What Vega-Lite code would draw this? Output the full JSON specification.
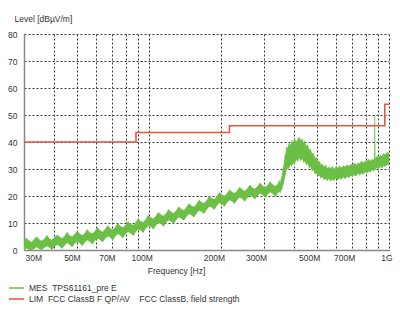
{
  "$schema": "https://vega.github.io/schema/vega-lite/v6.json",
  "width": 365,
  "height": 216,
  "autosize": {"type": "none"},
  "padding": {"left": 24, "top": 34, "right": 11, "bottom": 59},
  "background": "white",
  "config": {
    "view": {"stroke": null},
    "font": "Liberation Sans",
    "axis": {
      "labelFont": "Liberation Sans",
      "labelFontSize": 8.5,
      "labelColor": "#333",
      "titleFont": "Liberation Sans",
      "titleFontSize": 8.5,
      "titleFontWeight": "normal",
      "titleColor": "#333",
      "ticks": false,
      "grid": true,
      "gridColor": "#3a3a3a",
      "gridDash": [2, 2],
      "gridWidth": 1,
      "domainColor": "#888",
      "domainWidth": 1.5,
      "labelOverlap": false
    }
  },
  "datasets": {
    "mes": [
      {"f": 30, "lo": 0, "hi": 3.3},
      {"f": 30.7, "lo": 0.6, "hi": 4.4},
      {"f": 31.5, "lo": 0, "hi": 3.4},
      {"f": 32.2, "lo": 0, "hi": 2.9},
      {"f": 33, "lo": 0.3, "hi": 3.8},
      {"f": 33.8, "lo": 1.1, "hi": 4.9},
      {"f": 34.7, "lo": 0.4, "hi": 3.9},
      {"f": 35.6, "lo": 0, "hi": 3.3},
      {"f": 36.5, "lo": 0.8, "hi": 4.1},
      {"f": 37.4, "lo": 1.4, "hi": 5.5},
      {"f": 38.3, "lo": 0.9, "hi": 4.2},
      {"f": 39.2, "lo": 0, "hi": 3.7},
      {"f": 40.2, "lo": 1.1, "hi": 4.6},
      {"f": 41.2, "lo": 1.9, "hi": 5.6},
      {"f": 42.2, "lo": 1.4, "hi": 4.9},
      {"f": 43.2, "lo": 0.4, "hi": 4.3},
      {"f": 44.3, "lo": 1.6, "hi": 5.1},
      {"f": 45.4, "lo": 2.6, "hi": 6.6},
      {"f": 46.5, "lo": 2.0, "hi": 5.3},
      {"f": 47.6, "lo": 0.9, "hi": 4.9},
      {"f": 48.8, "lo": 2.3, "hi": 5.8},
      {"f": 50, "lo": 3.1, "hi": 6.9},
      {"f": 51.3, "lo": 2.5, "hi": 6.0},
      {"f": 52.5, "lo": 1.5, "hi": 5.4},
      {"f": 53.8, "lo": 2.8, "hi": 6.2},
      {"f": 55.1, "lo": 3.6, "hi": 7.6},
      {"f": 56.5, "lo": 3.1, "hi": 6.4},
      {"f": 57.9, "lo": 2.0, "hi": 6.0},
      {"f": 59.3, "lo": 3.4, "hi": 6.9},
      {"f": 60.8, "lo": 4.2, "hi": 8.3},
      {"f": 62.3, "lo": 3.8, "hi": 7.2},
      {"f": 63.8, "lo": 2.8, "hi": 6.7},
      {"f": 65.4, "lo": 4.2, "hi": 7.6},
      {"f": 67, "lo": 5.0, "hi": 9.1},
      {"f": 68.7, "lo": 4.6, "hi": 8.0},
      {"f": 70.4, "lo": 3.6, "hi": 7.5},
      {"f": 72.1, "lo": 5.0, "hi": 8.4},
      {"f": 73.9, "lo": 5.9, "hi": 9.9},
      {"f": 75.7, "lo": 5.4, "hi": 8.8},
      {"f": 77.6, "lo": 4.3, "hi": 8.3},
      {"f": 79.5, "lo": 5.8, "hi": 9.2},
      {"f": 81.5, "lo": 6.7, "hi": 10.6},
      {"f": 83.5, "lo": 6.2, "hi": 9.6},
      {"f": 85.6, "lo": 5.2, "hi": 9.2},
      {"f": 87.7, "lo": 6.7, "hi": 10.1},
      {"f": 89.8, "lo": 7.6, "hi": 11.6},
      {"f": 92, "lo": 7.2, "hi": 10.6},
      {"f": 94.3, "lo": 6.3, "hi": 10.3},
      {"f": 96.6, "lo": 7.9, "hi": 11.3},
      {"f": 99, "lo": 8.9, "hi": 12.9},
      {"f": 101.5, "lo": 8.6, "hi": 12.0},
      {"f": 104, "lo": 7.6, "hi": 11.6},
      {"f": 106.5, "lo": 9.1, "hi": 12.5},
      {"f": 109.2, "lo": 10.0, "hi": 14.0},
      {"f": 111.9, "lo": 9.6, "hi": 13.0},
      {"f": 114.6, "lo": 8.6, "hi": 12.6},
      {"f": 117.4, "lo": 10.1, "hi": 13.5},
      {"f": 120.3, "lo": 11.0, "hi": 15.0},
      {"f": 123.3, "lo": 10.6, "hi": 14.0},
      {"f": 126.4, "lo": 9.6, "hi": 13.6},
      {"f": 129.5, "lo": 11.1, "hi": 14.5},
      {"f": 132.7, "lo": 12.1, "hi": 16.0},
      {"f": 136, "lo": 11.7, "hi": 15.1},
      {"f": 139.4, "lo": 10.8, "hi": 14.7},
      {"f": 142.8, "lo": 12.3, "hi": 15.7},
      {"f": 146.3, "lo": 13.3, "hi": 17.2},
      {"f": 149.9, "lo": 12.9, "hi": 16.3},
      {"f": 153.6, "lo": 12.0, "hi": 15.9},
      {"f": 157.4, "lo": 13.5, "hi": 16.9},
      {"f": 161.3, "lo": 14.5, "hi": 18.5},
      {"f": 165.3, "lo": 14.2, "hi": 17.6},
      {"f": 169.4, "lo": 13.3, "hi": 17.3},
      {"f": 173.5, "lo": 14.9, "hi": 18.3},
      {"f": 177.8, "lo": 16.0, "hi": 19.9},
      {"f": 182.2, "lo": 15.7, "hi": 19.1},
      {"f": 186.7, "lo": 14.8, "hi": 18.8},
      {"f": 191.3, "lo": 16.4, "hi": 19.8},
      {"f": 196, "lo": 17.4, "hi": 21.3},
      {"f": 200.9, "lo": 17.0, "hi": 20.4},
      {"f": 205.8, "lo": 16.0, "hi": 20.0},
      {"f": 210.9, "lo": 17.5, "hi": 20.9},
      {"f": 216.1, "lo": 18.4, "hi": 22.3},
      {"f": 221.5, "lo": 18.0, "hi": 21.4},
      {"f": 226.9, "lo": 17.0, "hi": 21.0},
      {"f": 232.5, "lo": 18.5, "hi": 21.9},
      {"f": 238.3, "lo": 19.4, "hi": 23.3},
      {"f": 244.2, "lo": 18.9, "hi": 22.3},
      {"f": 250.2, "lo": 17.9, "hi": 21.8},
      {"f": 256.4, "lo": 19.3, "hi": 22.7},
      {"f": 262.7, "lo": 20.2, "hi": 24.1},
      {"f": 269.2, "lo": 19.7, "hi": 23.1},
      {"f": 275.8, "lo": 18.7, "hi": 22.6},
      {"f": 282.6, "lo": 20.1, "hi": 23.5},
      {"f": 289.6, "lo": 20.9, "hi": 24.8},
      {"f": 296.8, "lo": 20.4, "hi": 23.8},
      {"f": 304.1, "lo": 19.3, "hi": 23.2},
      {"f": 311.6, "lo": 20.6, "hi": 24.0},
      {"f": 319.3, "lo": 21.4, "hi": 25.3},
      {"f": 327.2, "lo": 20.8, "hi": 24.2},
      {"f": 335.3, "lo": 19.6, "hi": 23.6},
      {"f": 343.6, "lo": 20.9, "hi": 24.3},
      {"f": 348, "lo": 21.6, "hi": 25.8},
      {"f": 352, "lo": 20.8, "hi": 24.6},
      {"f": 355, "lo": 22.0, "hi": 26.8},
      {"f": 358, "lo": 22.3, "hi": 27.6},
      {"f": 361, "lo": 23.8, "hi": 30.5},
      {"f": 364, "lo": 24.6, "hi": 31.4},
      {"f": 367, "lo": 26.5, "hi": 34.8},
      {"f": 370, "lo": 27.6, "hi": 35.4},
      {"f": 374, "lo": 29.6, "hi": 38.2},
      {"f": 378, "lo": 30.1, "hi": 37.6},
      {"f": 383, "lo": 30.2, "hi": 39.6},
      {"f": 388, "lo": 31.6, "hi": 38.6},
      {"f": 393, "lo": 30.8, "hi": 40.5},
      {"f": 398, "lo": 32.2, "hi": 39.7},
      {"f": 404, "lo": 31.6, "hi": 41.2},
      {"f": 410, "lo": 33.4, "hi": 40.0},
      {"f": 416, "lo": 32.4, "hi": 41.0},
      {"f": 422, "lo": 34.2, "hi": 41.8},
      {"f": 428, "lo": 32.8, "hi": 40.6},
      {"f": 434, "lo": 33.8, "hi": 41.2},
      {"f": 440, "lo": 32.2, "hi": 39.6},
      {"f": 446, "lo": 32.8, "hi": 40.4},
      {"f": 452, "lo": 31.4, "hi": 38.4},
      {"f": 458, "lo": 32.0, "hi": 38.9},
      {"f": 464, "lo": 30.2, "hi": 37.0},
      {"f": 470, "lo": 30.8, "hi": 37.4},
      {"f": 477, "lo": 29.2, "hi": 35.6},
      {"f": 484, "lo": 29.6, "hi": 35.9},
      {"f": 491, "lo": 28.0, "hi": 34.0},
      {"f": 498, "lo": 28.4, "hi": 34.2},
      {"f": 505, "lo": 27.2, "hi": 32.6},
      {"f": 512, "lo": 27.6, "hi": 33.0},
      {"f": 520, "lo": 26.4, "hi": 31.6},
      {"f": 528, "lo": 27.0, "hi": 31.8},
      {"f": 536, "lo": 25.8, "hi": 30.8},
      {"f": 545, "lo": 26.4, "hi": 31.4},
      {"f": 553, "lo": 25.6, "hi": 30.0},
      {"f": 562, "lo": 26.4, "hi": 30.8},
      {"f": 571, "lo": 25.4, "hi": 30.2},
      {"f": 580, "lo": 26.2, "hi": 31.0},
      {"f": 590, "lo": 25.6, "hi": 29.9},
      {"f": 600, "lo": 26.6, "hi": 30.8},
      {"f": 611, "lo": 25.8, "hi": 30.2},
      {"f": 622, "lo": 26.6, "hi": 31.2},
      {"f": 633, "lo": 26.0, "hi": 30.4},
      {"f": 645, "lo": 27.0, "hi": 31.2},
      {"f": 656, "lo": 26.2, "hi": 30.8},
      {"f": 668, "lo": 27.2, "hi": 31.6},
      {"f": 680, "lo": 26.6, "hi": 31.0},
      {"f": 692, "lo": 27.6, "hi": 31.8},
      {"f": 704, "lo": 26.9, "hi": 31.3},
      {"f": 716, "lo": 27.8, "hi": 32.2},
      {"f": 729, "lo": 27.2, "hi": 31.6},
      {"f": 742, "lo": 28.3, "hi": 32.2},
      {"f": 755, "lo": 27.6, "hi": 32.0},
      {"f": 768, "lo": 28.4, "hi": 32.9},
      {"f": 781, "lo": 27.9, "hi": 32.3},
      {"f": 795, "lo": 29.0, "hi": 32.9},
      {"f": 808, "lo": 28.3, "hi": 32.8},
      {"f": 822, "lo": 29.1, "hi": 33.6},
      {"f": 836, "lo": 28.6, "hi": 33.0},
      {"f": 850, "lo": 29.7, "hi": 33.6},
      {"f": 862, "lo": 29.0, "hi": 33.2},
      {"f": 868, "lo": 29.8, "hi": 34.0},
      {"f": 872, "lo": 29.8, "hi": 50},
      {"f": 876, "lo": 29.6, "hi": 33.8},
      {"f": 890, "lo": 30.4, "hi": 34.8},
      {"f": 905, "lo": 29.8, "hi": 34.2},
      {"f": 920, "lo": 30.8, "hi": 35.2},
      {"f": 935, "lo": 30.2, "hi": 34.6},
      {"f": 950, "lo": 31.2, "hi": 35.8},
      {"f": 965, "lo": 30.7, "hi": 35.2},
      {"f": 982, "lo": 31.6, "hi": 36.2},
      {"f": 1000, "lo": 31.4, "hi": 35.8}
    ],
    "lim": [
      {"f": 30, "level": 40},
      {"f": 88, "level": 43.5},
      {"f": 216, "level": 46},
      {"f": 960, "level": 54},
      {"f": 1000, "level": 54}
    ]
  },
  "encoding": {
    "x": {
      "field": "f",
      "type": "quantitative",
      "scale": {"type": "log", "domain": [30, 1000], "nice": false},
      "axis": {
        "title": "Frequency [Hz]",
        "titleX": 152,
        "titleY": 20,
        "titleAlign": "center",
        "titleBaseline": "middle",
        "values": [30, 40, 50, 60, 70, 80, 90, 100, 200, 300, 400, 500, 600, 700, 800, 900, 1000],
        "labelExpr": "indexof([30,50,70,100,200,300,500,700], datum.value) >= 0 ? datum.value + 'M' : (datum.value == 1000 ? '1G' : '')",
        "labelAlign": {"condition": {"test": "datum.value == 30", "value": "left"}, "value": "right"},
        "labelOffset": {"condition": {"test": "datum.value == 30", "value": 1}, "value": 3},
        "labelFlush": false,
        "labelPadding": 3,
        "labelBaseline": "top"
      }
    }
  },
  "layer": [
    {
      "data": {"name": "mes"},
      "mark": {"type": "area", "color": "#6cbf45", "clip": true},
      "encoding": {
        "y": {
          "field": "lo",
          "type": "quantitative",
          "scale": {"domain": [0, 80], "nice": false},
          "axis": {
            "title": "Level [dBµV/m]",
            "titleAngle": 0,
            "titleX": -10,
            "titleY": -16,
            "titleAlign": "left",
            "titleBaseline": "middle",
            "values": [0, 10, 20, 30, 40, 50, 60, 70, 80],
            "labelPadding": 7
          }
        },
        "y2": {"field": "hi"}
      }
    },
    {
      "data": {"name": "mes"},
      "mark": {"type": "line", "strokeWidth": 0.5, "clip": true},
      "encoding": {
        "y": {
          "field": "hi",
          "type": "quantitative",
          "scale": {"domain": [0, 80], "nice": false},
          "axis": {
            "title": "Level [dBµV/m]",
            "titleAngle": 0,
            "titleX": -10,
            "titleY": -16,
            "titleAlign": "left",
            "titleBaseline": "middle",
            "values": [0, 10, 20, 30, 40, 50, 60, 70, 80],
            "labelPadding": 7
          }
        },
        "stroke": {"datum": "MES\u00a0\u00a0TPS61161_pre E"}
      }
    },
    {
      "data": {"name": "lim"},
      "mark": {"type": "line", "interpolate": "step-after", "strokeWidth": 1.6},
      "encoding": {
        "y": {
          "field": "level",
          "type": "quantitative",
          "scale": {"domain": [0, 80], "nice": false},
          "axis": {
            "title": "Level [dBµV/m]",
            "titleAngle": 0,
            "titleX": -10,
            "titleY": -16,
            "titleAlign": "left",
            "titleBaseline": "middle",
            "values": [0, 10, 20, 30, 40, 50, 60, 70, 80],
            "labelPadding": 7
          }
        },
        "stroke": {
          "datum": "LIM\u00a0\u00a0FCC ClassB F QP/AV\u00a0\u00a0\u00a0\u00a0FCC ClassB, field strength",
          "scale": {
            "domain": ["MES\u00a0\u00a0TPS61161_pre E", "LIM\u00a0\u00a0FCC ClassB F QP/AV\u00a0\u00a0\u00a0\u00a0FCC ClassB, field strength"],
            "range": ["#6cbf45", "#e5553f"]
          },
          "legend": {
            "title": null,
            "orient": "none",
            "legendX": -13.5,
            "legendY": 248,
            "direction": "vertical",
            "symbolType": "M-1.5,0H1.5",
            "symbolSize": 100,
            "symbolStrokeWidth": 1.5,
            "labelFont": "Liberation Sans",
            "labelFontSize": 8.5,
            "labelColor": "#333",
            "labelOffset": 6.5,
            "labelLimit": 0,
            "rowPadding": 0,
            "padding": 0
          }
        }
      }
    }
  ]
}
